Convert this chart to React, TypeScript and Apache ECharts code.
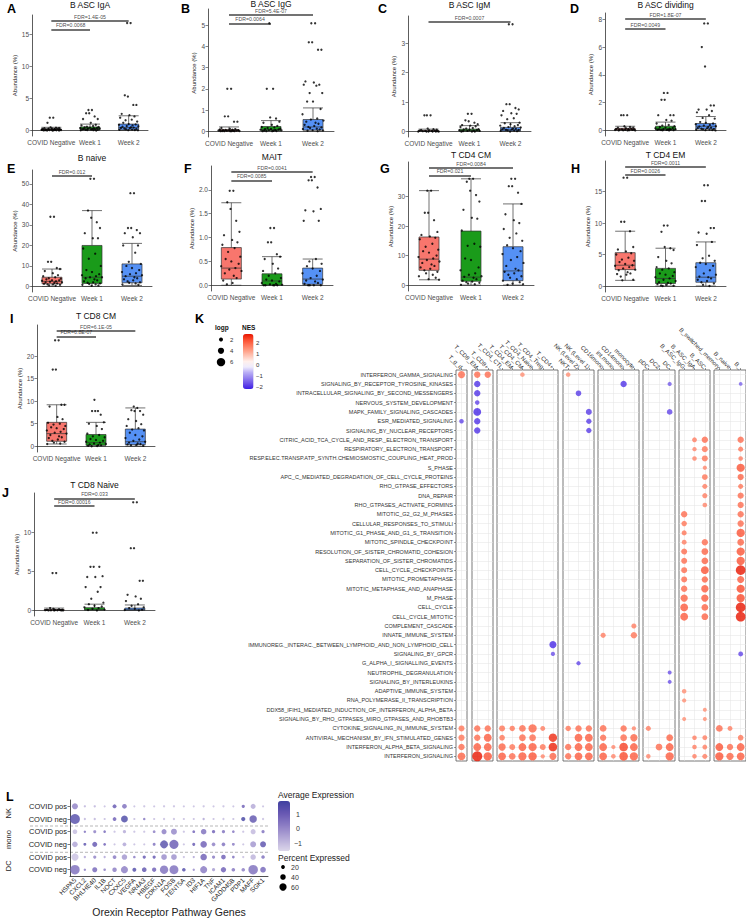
import React, { useEffect, useRef } from "react";
import * as echarts from "echarts";

const FONT = "'Liberation Sans', Arial, sans-serif";

// ---------- Panels A-J (boxplots) ----------
const groups = ["COVID Negative", "Week 1", "Week 2"];
const groupColors = ["#f8766d", "#1a9b1a", "#5591f5"];

const aBox = [[0, 0.05, 0.15, 0.25, 0.5], [0, 0.15, 0.3, 0.55, 1.0], [0, 0.1, 0.45, 1.0, 2.3]];
const aPts = [
  [2.0, 2.0, 1.2, 0.5, 0.45, 0.4, 0.35, 0.3, 0.28, 0.25, 0.22, 0.2, 0.18, 0.16, 0.15, 0.14, 0.12, 0.1, 0.08, 0.06, 0.05, 0.04, 0.02, 0.01, 0, 0, 0, 0.3, 0.2, 0.1],
  [3.2, 3.2, 2.7, 2.7, 2.2, 1.8, 1.8, 1.2, 0.9, 0.8, 0.7, 0.6, 0.55, 0.5, 0.45, 0.4, 0.38, 0.35, 0.3, 0.28, 0.25, 0.22, 0.2, 0.18, 0.15, 0.12, 0.1, 0.08, 0.05, 0.02, 0],
  [16.8, 16.8, 5.5, 5.3, 4.0, 4.0, 2.6, 2.4, 2.2, 2.0, 1.7, 1.6, 1.4, 1.2, 1.0, 0.95, 0.9, 0.8, 0.7, 0.65, 0.6, 0.5, 0.45, 0.4, 0.35, 0.3, 0.25, 0.2, 0.15, 0.1, 0.08, 0.05, 0.02],
];
const aTicks = [0, 5, 10, 15];
const aRange = [-0.86, 18.06];
const aFdr: [string, number, number][] = [["FDR=0.0068", 1, 15.8], ["FDR=1.4E-05", 2, 17.2]];

const bBox = [[0, 0, 0.03, 0.08, 0.2], [0, 0.02, 0.08, 0.22, 0.5], [0, 0.05, 0.2, 0.55, 1.1]];
const bPts = [
  [2.0, 2.0, 0.7, 0.7, 0.45, 0.45, 0.15, 0.12, 0.1, 0.08, 0.07, 0.06, 0.05, 0.05, 0.04, 0.03, 0.03, 0.02, 0.02, 0.01, 0.01, 0, 0, 0, 0, 0],
  [5.1, 2.0, 2.0, 0.65, 0.6, 0.45, 0.4, 0.3, 0.25, 0.2, 0.18, 0.15, 0.12, 0.1, 0.1, 0.08, 0.07, 0.06, 0.05, 0.04, 0.03, 0.02, 0.01, 0, 0, 0],
  [5.1, 5.1, 4.2, 4.2, 3.85, 3.85, 2.35, 2.3, 2.2, 2.2, 2.15, 1.8, 1.8, 1.4, 1.4, 1.05, 0.8, 0.6, 0.55, 0.5, 0.45, 0.4, 0.35, 0.3, 0.25, 0.2, 0.18, 0.15, 0.12, 0.1, 0.08, 0.05, 0.03, 0.02, 0],
];
const bTicks = [0, 1, 2, 3, 4, 5];
const bRange = [-0.275, 5.775];
const bFdr: [string, number, number][] = [["FDR=0.0064", 1, 5.1], ["FDR=5.4E-07", 2, 5.5]];

const cBox = [[0, 0, 0.01, 0.03, 0.08], [0, 0.01, 0.03, 0.08, 0.2], [0, 0.02, 0.06, 0.14, 0.3]];
const cPts = [
  [0.55, 0.55, 0.55, 0.1, 0.08, 0.06, 0.05, 0.04, 0.03, 0.03, 0.02, 0.02, 0.01, 0.01, 0, 0, 0, 0, 0, 0],
  [0.6, 0.6, 0.38, 0.35, 0.3, 0.25, 0.22, 0.2, 0.18, 0.15, 0.12, 0.1, 0.08, 0.07, 0.06, 0.05, 0.04, 0.03, 0.02, 0.02, 0.01, 0, 0, 0],
  [3.65, 3.65, 0.93, 0.93, 0.8, 0.75, 0.7, 0.62, 0.6, 0.55, 0.45, 0.42, 0.3, 0.28, 0.25, 0.22, 0.2, 0.18, 0.15, 0.14, 0.12, 0.1, 0.09, 0.08, 0.07, 0.06, 0.05, 0.04, 0.03, 0.02, 0.01, 0],
];
const cTicks = [0, 1, 2, 3];
const cRange = [-0.187, 3.93];
const cFdr: [string, number, number][] = [["FDR=0.0007", 2, 3.74]];

const dBox = [[0, 0.02, 0.08, 0.15, 0.3], [0, 0.03, 0.1, 0.3, 0.6], [0, 0.1, 0.3, 0.5, 1.0]];
const dPts = [
  [1.1, 1.1, 1.1, 0.3, 0.25, 0.2, 0.2, 0.15, 0.12, 0.1, 0.1, 0.08, 0.07, 0.06, 0.05, 0.04, 0.03, 0.02, 0.01, 0, 0, 0],
  [2.7, 2.7, 2.2, 2.2, 1.1, 1.1, 1.1, 0.75, 0.7, 0.5, 0.4, 0.35, 0.3, 0.25, 0.2, 0.18, 0.15, 0.12, 0.1, 0.09, 0.08, 0.07, 0.06, 0.05, 0.04, 0.03, 0.02, 0.01, 0],
  [7.7, 7.7, 6.0, 4.6, 1.8, 1.8, 1.5, 1.5, 1.4, 1.3, 1.1, 0.9, 0.85, 0.6, 0.55, 0.5, 0.45, 0.4, 0.35, 0.3, 0.28, 0.25, 0.2, 0.18, 0.15, 0.12, 0.1, 0.08, 0.06, 0.05, 0.03, 0.02, 0],
];
const dTicks = [0, 2, 4, 6, 8];
const dRange = [-0.4, 8.45];
const dFdr: [string, number, number][] = [["FDR=0.0049", 1, 7.33], ["FDR=1.8E-07", 2, 8.05]];

const eBox = [[0, 1.3, 2.5, 4.5, 8.5], [0, 1.5, 4.5, 20, 37], [0.5, 1.8, 5, 11, 21]];
const ePts = [
  [34, 34, 12, 12, 9, 8.5, 7.5, 6.5, 5.5, 5, 4.5, 4, 3.8, 3.5, 3, 3, 2.8, 2.5, 2.3, 2, 2, 1.8, 1.5, 1.3, 1, 1, 0.8, 0.5, 0.3],
  [52.5, 52.5, 37, 33.5, 31.3, 28.5, 26, 23.5, 23.5, 18.5, 16, 13.5, 10, 8, 7, 6, 5.5, 5, 4.5, 4.5, 4, 3.5, 3, 2.5, 2, 1.8, 1.5, 1.2, 1, 0.8, 0.5, 0.3],
  [45.5, 45.5, 28.5, 28.5, 27.5, 26, 26, 24, 20, 20, 16.5, 12, 11, 10, 9, 8, 7, 6.5, 6, 5.5, 5, 4.5, 4, 3.5, 3, 2.5, 2, 1.8, 1.5, 1, 0.8],
];
const eTicks = [0, 10, 20, 30, 40, 50];
const eRange = [-2.7, 56.8];
const eFdr: [string, number, number][] = [["FDR=0.012", 1, 54.1]];

const fBox = [[0, 0.13, 0.36, 0.79, 1.73], [0, 0, 0.09, 0.24, 0.6], [0, 0.02, 0.13, 0.36, 0.55]];
const fPts = [
  [1.98, 1.98, 1.74, 1.6, 1.35, 1.12, 1.05, 0.95, 0.9, 0.85, 0.78, 0.7, 0.6, 0.55, 0.5, 0.45, 0.4, 0.36, 0.33, 0.3, 0.25, 0.2, 0.15, 0.1, 0.05, 0.02],
  [1.2, 1.2, 0.9, 0.9, 0.65, 0.6, 0.55, 0.45, 0.35, 0.3, 0.25, 0.2, 0.15, 0.12, 0.1, 0.08, 0.05, 0.03, 0.02, 0.01, 0, 0, 0, 0, 0],
  [2.27, 2.27, 2.2, 2.2, 2.05, 1.6, 1.57, 1.55, 1.35, 1.35, 0.55, 0.5, 0.45, 0.4, 0.35, 0.3, 0.25, 0.2, 0.15, 0.12, 0.1, 0.08, 0.05, 0.03, 0, 0, 0, 0],
];
const fTicks = [0, 0.5, 1, 1.5, 2];
const fRange = [-0.12, 2.5];
const fFdr: [string, number, number][] = [["FDR=0.0085", 1, 2.2], ["FDR=0.0041", 2, 2.38]];

const gBox = [[1.8, 5, 8.8, 16.3, 32], [0, 1.3, 2.7, 18.3, 36], [0, 1.5, 4.8, 13, 27.5]];
const gPts = [
  [32, 32, 24.5, 24.5, 22, 18, 17, 16.5, 16, 15.5, 14, 13, 12, 11.5, 11, 10, 9.5, 9, 8.5, 8, 7.5, 7, 6.5, 6, 5.5, 5, 4.5, 4, 3.5, 3, 2.5, 2, 1.8],
  [36, 36, 35, 32, 30.5, 28.3, 25.5, 22.8, 22.5, 18.5, 14, 13.3, 13, 9, 8.5, 6, 5, 4, 3.5, 3, 2.8, 2.5, 2, 1.5, 1.2, 1, 0.8, 0.5, 0.3, 0.1],
  [36, 36, 33.5, 33.5, 31.3, 27.5, 24, 22, 21, 19, 17.5, 16, 15, 13.5, 12.5, 11.5, 10.5, 9.5, 8.5, 7.5, 6.5, 5.5, 5, 4.5, 4, 3.5, 3, 2.5, 2, 1.5, 1, 0.5, 0.3, 0.1],
];
const gTicks = [0, 10, 20, 30];
const gRange = [-2.0, 41.7];
const gFdr: [string, number, number][] = [["FDR=0.021", 1, 37.2], ["FDR=0.0084", 2, 39.7]];

const hBox = [[0.9, 2.6, 3.3, 5.3, 8.7], [0, 0.4, 1.2, 2.8, 6], [0, 0.6, 1.4, 3.7, 7]];
const hPts = [
  [17.2, 17.2, 10.2, 10.2, 8.7, 6.2, 5.8, 5.5, 5.2, 5, 4.5, 4.2, 4, 3.8, 3.5, 3.3, 3.2, 3, 2.8, 2.6, 2.5, 2.2, 2, 1.9, 1.8, 1.5, 1, 0.9],
  [9.6, 9.6, 8.6, 6.2, 6, 5.7, 4.6, 4, 3.6, 3, 2.8, 2.6, 2.2, 2, 1.8, 1.6, 1.4, 1.2, 1, 0.8, 0.6, 0.5, 0.4, 0.3, 0.2, 0.1, 0.05, 0],
  [16, 16, 13.5, 13.5, 9.2, 9.2, 8.5, 8.3, 7, 6.5, 4.8, 4.4, 4, 3.7, 3.5, 3.2, 3, 2.5, 2, 1.8, 1.5, 1.4, 1.2, 1, 0.8, 0.6, 0.4, 0.2, 0],
];
const hTicks = [0, 5, 10, 15];
const hRange = [-0.95, 19.85];
const hFdr: [string, number, number][] = [["FDR=0.0026", 1, 17.6], ["FDR=0.0011", 2, 18.9]];

const iBox = [[0.5, 1.1, 2.8, 5.3, 9.2], [0, 0.2, 0.8, 2.6, 5.3], [0, 0.35, 1, 3.8, 8.5]];
const iPts = [
  [23.5, 23.5, 17, 17, 9.2, 9.2, 8.8, 6.5, 6, 5.2, 5, 4.8, 4.5, 4.2, 4, 3.8, 3.5, 3.2, 3, 2.8, 2.5, 2.2, 2, 1.8, 1.5, 1.2, 1, 0.8, 0.6, 0.5],
  [10.3, 7.8, 7.8, 7.8, 7, 5.3, 5, 4.5, 3.8, 2.8, 2.5, 2.2, 2, 1.6, 1.4, 1.2, 1, 0.8, 0.6, 0.5, 0.4, 0.3, 0.2, 0.1, 0.05, 0],
  [8.8, 8.5, 8, 7.8, 7.8, 7, 6, 5.6, 4.9, 4.5, 4, 3.7, 3.5, 3, 2.5, 2.2, 1.8, 1.5, 1.2, 1, 0.8, 0.6, 0.5, 0.4, 0.3, 0.2, 0.1],
];
const iTicks = [0, 5, 10, 15, 20];
const iRange = [-1.28, 26.9];
const iFdr: [string, number, number][] = [["FDR=6.8E-07", 1, 24.4], ["FDR=6.1E-05", 2, 25.6]];

const jBox = [[0, 0, 0.05, 0.1, 0.3], [0, 0.02, 0.1, 0.35, 0.8], [0, 0.02, 0.08, 0.3, 0.7]];
const jPts = [
  [4.8, 4.8, 0.3, 0.2, 0.15, 0.1, 0.08, 0.05, 0.04, 0.03, 0.02, 0.01, 0, 0, 0, 0],
  [10, 10, 5.6, 5.6, 5.6, 4.4, 4.3, 4.3, 3, 3, 2.4, 1.5, 1, 0.8, 0.6, 0.5, 0.4, 0.3, 0.2, 0.1, 0.05, 0],
  [13.9, 13.9, 8, 8, 3.8, 3.8, 2, 1.8, 1.5, 1.2, 0.8, 0.6, 0.4, 0.3, 0.2, 0.1, 0.05, 0],
];
const jTicks = [0, 5, 10];
const jRange = [-0.72, 15.1];
const jFdr: [string, number, number][] = [["FDR=0.00016", 1, 13.4], ["FDR=0.033", 2, 14.4]];

// fixed horizontal jitter pattern (fraction of a category band)
const JITTER = [-0.04, 0.05, -0.1, -0.02, 0.12, 0.2, -0.18, 0.02, 0.15, -0.22, 0.08, -0.08, 0.22, -0.14, 0.0, 0.18, -0.25, 0.1, -0.05, 0.25, -0.16, 0.06, 0.13, -0.2, 0.03, -0.11, 0.2, -0.07, 0.09, -0.24, 0.16, -0.01, 0.24, -0.13, 0.11];

// ---------- Panel K (GSEA dot plot) ----------
const kRows = [
  "INTERFERON_GAMMA_SIGNALING",
  "SIGNALING_BY_RECEPTOR_TYROSINE_KINASES",
  "INTRACELLULAR_SIGNALING_BY_SECOND_MESSENGERS",
  "NERVOUS_SYSTEM_DEVELOPMENT",
  "MAPK_FAMILY_SIGNALING_CASCADES",
  "ESR_MEDIATED_SIGNALING",
  "SIGNALING_BY_NUCLEAR_RECEPTORS",
  "CITRIC_ACID_TCA_CYCLE_AND_RESP._ELECTRON_TRANSPORT",
  "RESPIRATORY_ELECTRON_TRANSPORT",
  "RESP.ELEC.TRANSP.ATP_SYNTH.CHEMIOSMOSTIC_COUPLING_HEAT_PROD",
  "S_PHASE",
  "APC_C_MEDIATED_DEGRADATION_OF_CELL_CYCLE_PROTEINS",
  "RHO_GTPASE_EFFECTORS",
  "DNA_REPAIR",
  "RHO_GTPASES_ACTIVATE_FORMINS",
  "MITOTIC_G2_G2_M_PHASES",
  "CELLULAR_RESPONSES_TO_STIMULI",
  "MITOTIC_G1_PHASE_AND_G1_S_TRANSITION",
  "MITOTIC_SPINDLE_CHECKPOINT",
  "RESOLUTION_OF_SISTER_CHROMATID_COHESION",
  "SEPARATION_OF_SISTER_CHROMATIDS",
  "CELL_CYCLE_CHECKPOINTS",
  "MITOTIC_PROMETAPHASE",
  "MITOTIC_METAPHASE_AND_ANAPHASE",
  "M_PHASE",
  "CELL_CYCLE",
  "CELL_CYCLE_MITOTIC",
  "COMPLEMENT_CASCADE",
  "INNATE_IMMUNE_SYSTEM",
  "IMMUNOREG._INTERAC._BETWEEN_LYMPHOID_AND_NON_LYMPHOID_CELL",
  "SIGNALING_BY_GPCR",
  "G_ALPHA_I_SIGNALLING_EVENTS",
  "NEUTROPHIL_DEGRANULATION",
  "SIGNALING_BY_INTERLEUKINS",
  "ADAPTIVE_IMMUNE_SYSTEM",
  "RNA_POLYMERASE_II_TRANSCRIPTION",
  "DDX58_IFIH1_MEDIATED_INDUCTION_OF_INTERFERON_ALPHA_BETA",
  "SIGNALING_BY_RHO_GTPASES_MIRO_GTPASES_AND_RHOBTB3",
  "CYTOKINE_SIGNALING_IN_IMMUNE_SYSTEM",
  "ANTIVIRAL_MECHANISM_BY_IFN_STIMULATED_GENES",
  "INTERFERON_ALPHA_BETA_SIGNALING",
  "INTERFERON_SIGNALING",
];
const kPanels = [
  ["T_g_d"],
  ["T_CD8_EM", "T_CD8+"],
  ["T_CD4_CTL", "T_CD4_EM", "T_CD4_CM", "T_CD4_Naive", "T_CD4_Treg", "T_CD4+"],
  ["NKT", "NK (Level 2)", "NK (Level 1)"],
  ["CD16mono", "int.mono", "CD14mono", "monocyte"],
  ["pDC", "DC2", "DC"],
  ["B_ASC_IgG", "B_ASC_IgA", "B_ASC"],
  ["B_switched_memory", "B_naive", "B_"],
];
// [row, column (global), logp, NES]
const kDots = [
  [0, 0, 4.8, 1.9], [0, 1, 4.2, 1.9], [0, 2, 4.2, 1.9], [0, 5, 2.5, 1.5], [0, 9, 2.5, 1.5],
  [1, 1, 4.2, -2.0], [1, 14, 4.2, -2.0], [1, 18, 2.2, -1.6], [1, 24, 1.8, -1.5],
  [2, 1, 4.2, -2.0], [2, 10, 3.5, -1.9],
  [3, 1, 2.5, -1.8],
  [4, 1, 5.5, -2.1], [4, 11, 3.8, -1.9], [4, 18, 3.5, -1.8],
  [5, 0, 2.5, -1.8], [5, 1, 4.2, -2.0], [5, 11, 3.2, -1.9],
  [6, 1, 4.2, -2.0], [6, 11, 3.2, -1.9],
  [7, 20, 2.8, 1.7], [7, 21, 4.2, 1.9], [7, 24, 4.2, 1.9],
  [8, 20, 2.2, 1.6], [8, 21, 3.8, 1.8], [8, 24, 3.0, 1.8],
  [9, 20, 2.5, 1.6], [9, 21, 3.8, 1.8], [9, 24, 2.5, 1.7],
  [10, 21, 2.2, 1.6], [10, 24, 5.8, 2.2],
  [11, 21, 3.6, 1.8], [11, 24, 4.0, 2.0],
  [12, 21, 3.0, 1.7], [12, 24, 3.0, 1.8],
  [13, 21, 3.0, 1.7], [13, 24, 4.0, 1.9],
  [14, 21, 2.6, 1.6], [14, 24, 4.0, 1.9],
  [15, 19, 4.2, 1.9], [15, 24, 4.2, 1.9],
  [16, 19, 3.3, 1.8], [16, 24, 4.2, 1.9],
  [17, 19, 3.0, 1.8], [17, 24, 5.8, 2.2],
  [18, 19, 2.8, 1.7], [18, 21, 4.2, 1.9], [18, 24, 4.5, 2.0],
  [19, 19, 3.8, 1.9], [19, 21, 4.5, 2.0], [19, 24, 5.8, 2.2],
  [20, 19, 3.8, 1.9], [20, 21, 4.5, 2.0], [20, 24, 5.8, 2.2],
  [21, 19, 3.8, 1.9], [21, 21, 5.5, 2.2], [21, 24, 7.2, 2.8],
  [22, 19, 3.8, 1.9], [22, 21, 4.2, 2.0], [22, 24, 4.8, 2.1],
  [23, 19, 4.2, 1.9], [23, 21, 5.0, 2.1], [23, 24, 5.8, 2.3],
  [24, 19, 5.0, 2.0], [24, 21, 5.0, 2.1], [24, 24, 5.8, 2.3],
  [25, 19, 5.5, 2.1], [25, 21, 4.5, 2.0], [25, 24, 7.2, 2.8],
  [26, 19, 5.5, 2.1], [26, 21, 4.5, 2.0], [26, 24, 7.2, 2.8],
  [27, 15, 3.0, 1.7],
  [28, 12, 3.0, 1.7], [28, 15, 4.2, 1.8],
  [29, 8, 4.8, -2.1],
  [30, 8, 2.2, -1.7], [30, 24, 2.8, -1.8],
  [31, 10, 2.2, -1.8],
  [32, 18, 2.0, -1.7],
  [33, 18, 2.0, -1.7],
  [34, 19, 2.5, 1.5],
  [35, 19, 2.2, 1.5],
  [36, 21, 2.0, 1.5],
  [37, 19, 2.0, 1.5], [37, 21, 2.0, 1.5],
  [38, 0, 3.8, 1.8], [38, 1, 4.2, 1.9], [38, 2, 4.2, 1.9], [38, 3, 3.8, 1.8], [38, 4, 3.3, 1.8], [38, 5, 4.5, 1.9], [38, 6, 5.8, 2.0], [38, 7, 2.8, 1.7], [38, 9, 3.3, 1.8], [38, 10, 4.2, 1.9], [38, 11, 4.2, 1.9], [38, 12, 4.5, 1.9], [38, 14, 4.2, 1.9], [38, 15, 2.2, 1.6], [38, 16, 3.0, 1.7], [38, 22, 4.5, 1.9], [38, 23, 2.8, 1.7],
  [39, 0, 4.0, 1.8], [39, 1, 4.2, 1.9], [39, 2, 5.5, 2.1], [39, 3, 3.5, 1.8], [39, 5, 4.5, 1.9], [39, 6, 4.5, 1.9], [39, 8, 6.0, 2.6], [39, 10, 5.5, 2.1], [39, 11, 5.5, 2.1], [39, 12, 4.2, 1.9], [39, 14, 4.5, 1.9], [39, 15, 5.0, 2.0], [39, 18, 4.5, 2.0], [39, 20, 2.5, 1.7], [39, 21, 2.8, 1.7], [39, 24, 3.5, 1.8],
  [40, 0, 4.2, 1.9], [40, 1, 5.5, 2.1], [40, 2, 5.5, 2.1], [40, 3, 5.0, 2.0], [40, 4, 3.8, 1.8], [40, 5, 5.5, 2.1], [40, 6, 5.8, 2.1], [40, 7, 3.8, 1.8], [40, 8, 6.2, 2.7], [40, 9, 4.2, 1.9], [40, 10, 5.5, 2.1], [40, 11, 5.5, 2.1], [40, 12, 5.5, 2.1], [40, 13, 2.2, 1.6], [40, 14, 6.2, 2.4], [40, 15, 5.5, 2.1], [40, 17, 4.5, 1.9], [40, 18, 5.5, 2.1], [40, 20, 2.5, 1.7], [40, 21, 2.8, 1.7], [40, 22, 5.5, 2.2], [40, 23, 4.2, 1.9], [40, 24, 5.5, 2.1],
  [41, 0, 5.5, 2.0], [41, 1, 7.5, 2.8], [41, 2, 6.0, 2.2], [41, 3, 5.5, 2.1], [41, 4, 4.5, 1.9], [41, 5, 5.8, 2.1], [41, 6, 6.0, 2.2], [41, 7, 2.2, 1.6], [41, 8, 4.8, 2.0], [41, 9, 4.2, 1.9], [41, 10, 5.5, 2.1], [41, 11, 5.5, 2.1], [41, 12, 5.5, 2.1], [41, 13, 2.5, 1.6], [41, 14, 6.2, 2.3], [41, 15, 5.8, 2.1], [41, 16, 2.5, 1.6], [41, 18, 5.8, 2.1], [41, 20, 2.5, 1.7], [41, 21, 3.0, 1.7], [41, 22, 5.8, 2.2], [41, 23, 5.0, 2.0], [41, 24, 5.5, 2.1],
];
const kLogpLegend = [2, 4, 6];
const kNesTicks = [2, 1, 0, -1, -2];
const kNesRange = [-2.2, 2.8];
const kNesColors = ["#3d1ee6", "#6a4fe8", "#9280ef", "#b9aef5", "#eeebfd", "#fff0ec", "#ffc7b8", "#ff9e85", "#ff7558", "#fa4a2c", "#e81500"];

// ---------- Panel L (Seurat dot plot) ----------
const lGenes = ["HSPA5", "CXCL2", "BHLHE40", "IL1B", "NOCT", "CXXC5", "VEGFA", "NR4A3", "HBEGF", "CDKN1A", "FOSB", "TENT5A", "ID3", "HIF1A", "TNF", "ICAM1", "GADD45B", "PDP1", "MAFF", "SGK1"];
const lRowLabels = ["COVID pos", "COVID neg", "COVID pos", "COVID neg", "COVID pos", "COVID neg"];
const lGroupLabels = ["NK", "mono", "DC"];
const lPct = [
  [45, 3, 4, 2, 22, 30, 2, 3, 2, 3, 3, 2, 2, 3, 2, 3, 2, 14, 35, 2],
  [90, 3, 4, 2, 20, 55, 2, 6, 2, 3, 3, 2, 2, 5, 2, 3, 2, 25, 62, 3],
  [30, 5, 12, 7, 3, 15, 3, 3, 9, 35, 45, 3, 9, 40, 15, 14, 8, 3, 35, 14],
  [40, 10, 35, 9, 3, 20, 3, 3, 11, 68, 80, 3, 12, 52, 18, 18, 10, 3, 45, 45],
  [60, 4, 14, 4, 20, 40, 7, 14, 14, 42, 42, 3, 3, 52, 14, 30, 8, 3, 40, 18],
  [85, 5, 35, 7, 28, 58, 22, 30, 26, 72, 78, 18, 5, 58, 14, 38, 18, 18, 85, 42],
];
const lExp = [
  [0.2, -0.8, -0.8, -1, 1.2, 0.6, -1, -1, -1, -1, -1, -1, -1, -1, -1, -1, -1, 1.0, -0.6, -1],
  [1.5, -0.8, -0.8, -1, 1.0, 1.7, -1, 0.5, -1, -1, -1, -1, -1, -0.5, -1, -1, -1, 1.9, 1.3, -1],
  [-1.0, 0.6, 0.3, 0.8, -1, -0.6, -1, -1, 0.3, 0.3, 0.1, -1, 0.9, 0.6, 1.0, 0.6, 0.5, -1, -0.9, 0.6],
  [-0.5, 1.4, 1.2, 1.0, -1, -0.5, -1, -1, 0.6, 1.5, 1.1, -1, 1.2, 1.0, 0.3, 0.6, 0.4, -1, -0.2, 1.4],
  [-1.1, -0.5, 0.2, -0.5, 0.4, -0.2, 0.4, 1.2, 1.2, 0.0, -0.1, -1, -0.5, 1.0, 0.4, 1.0, 0.6, -1, -0.8, 0.6],
  [0.6, 0.3, 0.8, 0.3, 0.3, 0.3, 1.6, 1.3, 1.0, 0.6, 0.6, 1.6, 0.0, 0.4, -0.3, 1.0, 0.5, 0.3, 0.6, 0.8],
];
const lExpTicks = [1, 0, -1];
const lExpRange = [-1.55, 1.9];
const lPctLegend = [20, 40, 60];
const lColors = ["#dcd6ea", "#b5aad8", "#8e7fc5", "#6858b3", "#4040a0"];

// ---------- layout ----------
const boxPanels = [
  { letter: "A", title: "B ASC IgA", box: aBox, pts: aPts, ticks: aTicks, range: aRange, fdr: aFdr, left: 32, top: 15, width: 116, height: 121, ty: 5, lx: 7, ly: 2 },
  { letter: "B", title: "B ASC IgG", box: bBox, pts: bPts, ticks: bTicks, range: bRange, fdr: bFdr, left: 208, top: 9, width: 126, height: 128, ty: 3.5, lx: 181, ly: 2 },
  { letter: "C", title: "B ASC IgM", box: cBox, pts: cPts, ticks: cTicks, range: cRange, fdr: cFdr, left: 408, top: 16, width: 123, height: 121, ty: 5, lx: 378, ly: 2 },
  { letter: "D", title: "B ASC dividing", box: dBox, pts: dPts, ticks: dTicks, range: dRange, fdr: dFdr, left: 605, top: 13, width: 121, height: 123, ty: 5, lx: 570, ly: 2 },
  { letter: "E", title: "B naive", box: eBox, pts: ePts, ticks: eTicks, range: eRange, fdr: eFdr, left: 32, top: 170, width: 120, height: 122, ty: 158, lx: 7, ly: 162 },
  { letter: "F", title: "MAIT", box: fBox, pts: fPts, ticks: fTicks, range: fRange, fdr: fFdr, left: 211, top: 166, width: 122, height: 125, ty: 157, lx: 184, ly: 162, dec: true },
  { letter: "G", title: "T CD4 CM", box: gBox, pts: gPts, ticks: gTicks, range: gRange, fdr: gFdr, left: 408, top: 162, width: 126, height: 129, ty: 155, lx: 380, ly: 162 },
  { letter: "H", title: "T CD4 EM", box: hBox, pts: hPts, ticks: hTicks, range: hRange, fdr: hFdr, left: 605, top: 161, width: 121, height: 131, ty: 155, lx: 571, ly: 162 },
  { letter: "I", title: "T CD8 CM", box: iBox, pts: iPts, ticks: iTicks, range: iRange, fdr: iFdr, left: 37, top: 325, width: 118, height: 127, ty: 316, lx: 10, ly: 312 },
  { letter: "J", title: "T CD8 Naive", box: jBox, pts: jPts, ticks: jTicks, range: jRange, fdr: jFdr, left: 34, top: 493, width: 121, height: 123, ty: 485, lx: 2, ly: 486 },
];
const kLeft = [456, 472, 497, 563, 598, 643, 679, 714];
const kWidth = [11, 21, 61, 31, 41, 32, 31, 32];
const kTop = 370;
const kHeight = 391;

const kSize = (logp: number) => 1.1 * logp + 1.8;
const lSize = (pct: number) => 2.0 + 0.088 * pct;

function T(text: string, x: number, y: number, size: number, o: any = {}) {
  const align = o.align || "left";
  const va = o.va || "top";
  return {
    type: "text", x, y, rotation: o.rot || 0, silent: true, z: 20,
    style: {
      text, fontFamily: FONT, fontSize: size, fontWeight: o.bold ? "bold" : "normal", fill: o.color || "#222",
      align, verticalAlign: va, textAlign: align, textVerticalAlign: va,
    },
  };
}

function buildOption() {
  const grid: any[] = [];
  const xAxis: any[] = [];
  const yAxis: any[] = [];
  const series: any[] = [];
  const graphic: any[] = [];
  const axisLineStyle = { color: "#333", width: 0.8 };

  boxPanels.forEach((p, i) => {
    grid.push({ left: p.left, top: p.top, width: p.width, height: p.height });
    xAxis.push({
      type: "category", gridIndex: i, data: groups,
      axisLine: { lineStyle: axisLineStyle },
      axisTick: { length: 2.5, lineStyle: { color: "#333", width: 0.6 }, alignWithLabel: true },
      axisLabel: { fontSize: 6.5, color: "#4d4d4d", margin: 3, interval: 0, fontFamily: FONT },
    });
    xAxis.push({ type: "value", gridIndex: i, min: 0, max: 3, show: false });
    yAxis.push({
      type: "value", gridIndex: i, min: p.range[0], max: p.range[1],
      axisLine: { show: true, lineStyle: axisLineStyle },
      axisTick: { show: true, length: 2.5, lineStyle: { color: "#333", width: 0.6 }, customValues: p.ticks },
      axisLabel: {
        fontSize: 6.5, color: "#4d4d4d", margin: 3, fontFamily: FONT, customValues: p.ticks,
        formatter: (v: number) => ((p as any).dec ? v.toFixed(1) : String(v)),
      },
      splitLine: { show: false },
      name: "Abundance (%)", nameLocation: "middle", nameGap: (p as any).dec ? 16 : 11,
      nameTextStyle: { fontSize: 6, color: "#222", fontFamily: FONT },
    });
    series.push({
      type: "boxplot", xAxisIndex: 2 * i, yAxisIndex: i, boxWidth: [20, 20],
      itemStyle: { borderColor: "#333", borderWidth: 0.7 },
      data: p.box.map((b, g) => ({ value: b, itemStyle: { color: groupColors[g], borderColor: "#333" } })),
      silent: true,
    });
    series.push({
      type: "scatter", xAxisIndex: 2 * i + 1, yAxisIndex: i, symbolSize: 2.3, silent: true,
      itemStyle: { color: "#000" }, z: 5,
      data: p.pts.flatMap((arr, g) => arr.map((v, k) => [g + 0.5 + JITTER[k % JITTER.length], v])),
      markLine: {
        silent: true, symbol: "none", animation: false,
        lineStyle: { color: "#444", width: 1.7, type: "solid" },
        label: { show: false },
        emphasis: { disabled: true },
        data: p.fdr.map(([, g, y]) => [{ coord: [0.5, y] }, { coord: [g + 0.5, y] }]),
      },
    });
    // FDR labels centred over their bars
    series.push({
      type: "scatter", xAxisIndex: 2 * i + 1, yAxisIndex: i, symbolSize: 1, silent: true,
      itemStyle: { color: "rgba(0,0,0,0)" }, z: 6,
      label: { show: true, position: "top", distance: 1, fontSize: 5.2, color: "#111", fontFamily: FONT },
      data: p.fdr.map(([t, g, y]) => ({ value: [(1 + g) / 2, y], label: { formatter: t } })),
    });
    graphic.push(T(p.title, p.left + p.width / 2, p.ty, 8.5, { align: "center", va: "middle", color: "#111" }));
    graphic.push(T(p.letter, p.lx, p.ly, 12.5, { bold: true, color: "#000" }));
  });

  // ---- K ----
  const kSeriesIdx: number[] = [];
  let colOffset = 0;
  kPanels.forEach((cols, j) => {
    const gi = grid.length;
    const xi = xAxis.length;
    const yi = yAxis.length;
    grid.push({ left: kLeft[j], top: kTop, width: kWidth[j], height: kHeight, show: true, borderColor: "#555", borderWidth: 0.8 });
    xAxis.push({
      type: "category", gridIndex: gi, data: cols, position: "top",
      axisLine: { show: false },
      axisTick: { show: true, length: 2, interval: 0, alignWithLabel: true, lineStyle: { color: "#333", width: 0.5 } },
      axisLabel: { rotate: 45, fontSize: 6, color: "#333", margin: 2, interval: 0, fontFamily: FONT },
      splitLine: { show: true, interval: 0, alignWithLabel: true, lineStyle: { color: "#e3e3e3", width: 0.5 } },
    });
    yAxis.push({
      type: "category", gridIndex: gi, data: kRows, inverse: true,
      axisLine: { show: false },
      axisTick: { show: j === 0, length: 2, interval: 0, alignWithLabel: true, lineStyle: { color: "#333", width: 0.5 } },
      axisLabel: { show: j === 0, fontSize: 5.5, color: "#333", margin: 3, interval: 0, fontFamily: FONT },
      splitLine: { show: true, interval: 0, alignWithLabel: true, lineStyle: { color: "#e3e3e3", width: 0.5 } },
    });
    const off = colOffset;
    kSeriesIdx.push(series.length);
    series.push({
      type: "scatter", xAxisIndex: xi, yAxisIndex: yi, silent: true,
      symbolSize: (v: number[]) => kSize(v[2]),
      data: kDots.filter((d) => d[1] >= off && d[1] < off + cols.length).map((d) => [d[1] - off, d[0], d[2], d[3]]),
    });
    colOffset += cols.length;
  });

  graphic.push(T("K", 195, 312, 12.5, { bold: true, color: "#000" }));
  graphic.push(T("logp", 215, 327, 6.5, { bold: true, va: "middle", color: "#111" }));
  kLogpLegend.forEach((v, k) => {
    const cy = 339.5 + k * 11.3;
    graphic.push({ type: "circle", silent: true, shape: { cx: 221, cy, r: kSize(v) / 2 }, style: { fill: "#000" } });
    graphic.push(T(String(v), 230, cy, 6, { va: "middle", color: "#333" }));
  });
  graphic.push(T("NES", 242, 327, 6.5, { bold: true, va: "middle", color: "#111" }));
  const nesPx = 55 / (kNesRange[1] - kNesRange[0]);
  kNesTicks.forEach((v) => {
    graphic.push(T(v < 0 ? "\u2212" + Math.abs(v) : String(v), 256, 334 + (kNesRange[1] - v) * nesPx, 6, { va: "middle", color: "#333" }));
  });

  // ---- L ----
  const lg = grid.length;
  const lx = xAxis.length;
  const ly = yAxis.length;
  grid.push({ left: 70, top: 800, width: 198, height: 79 });
  xAxis.push({
    type: "category", gridIndex: lg, data: lGenes,
    axisLine: { lineStyle: { color: "#222", width: 0.8 } },
    axisTick: { length: 2.5, alignWithLabel: true, interval: 0, lineStyle: { color: "#222", width: 0.6 } },
    axisLabel: { rotate: 45, fontSize: 6.5, color: "#222", margin: 3, interval: 0, fontFamily: FONT },
    splitLine: { show: false },
    name: "Orexin Receptor Pathway Genes", nameLocation: "middle", nameGap: 28,
    nameTextStyle: { fontSize: 10.5, color: "#222", fontFamily: FONT },
  });
  yAxis.push({
    type: "category", gridIndex: lg, data: lRowLabels, inverse: true,
    axisLine: { show: true, lineStyle: { color: "#222", width: 0.8 } },
    axisTick: { show: true, length: 2.5, alignWithLabel: true, interval: 0, lineStyle: { color: "#222", width: 0.6 } },
    axisLabel: { fontSize: 7.5, color: "#222", margin: 3, interval: 0, fontFamily: FONT },
    splitLine: { show: false },
  });
  const lSeries = series.length;
  const lData: number[][] = [];
  lPct.forEach((row, r) => row.forEach((pct, g) => lData.push([g, r, pct, lExp[r][g]])));
  series.push({
    type: "scatter", xAxisIndex: lx, yAxisIndex: ly, silent: true,
    symbolSize: (v: number[]) => lSize(v[2]), data: lData,
  });
  graphic.push(T("L", 6, 790, 12.5, { bold: true, color: "#000" }));
  lGroupLabels.forEach((g, k) => {
    graphic.push(T(g, 8, 813.2 + k * 26.3, 7.5, { align: "center", va: "middle", rot: Math.PI / 2, color: "#222" }));
  });
  [826, 852.3].forEach((y) => {
    graphic.push({ type: "line", silent: true, shape: { x1: 30, y1: y, x2: 268, y2: y }, style: { stroke: "#9a9a9a", lineWidth: 0.7, lineDash: [3, 2] } });
  });
  graphic.push(T("Average Expression", 278, 795, 8.5, { va: "middle", color: "#222" }));
  const expPx = 50 / (lExpRange[1] - lExpRange[0]);
  lExpTicks.forEach((v) => {
    graphic.push(T(v < 0 ? "\u2212" + Math.abs(v) : String(v), v < 0 ? 294 : 296, 801 + (lExpRange[1] - v) * expPx, 7, { va: "middle", color: "#333" }));
  });
  graphic.push(T("Percent Expressed", 278, 858, 8.5, { va: "middle", color: "#222" }));
  lPctLegend.forEach((v, k) => {
    const cy = 867 + k * 10;
    graphic.push({ type: "circle", silent: true, shape: { cx: 283, cy, r: lSize(v) / 2 }, style: { fill: "#000" } });
    graphic.push(T(String(v), 291, cy, 7, { va: "middle", color: "#333" }));
  });

  return {
    animation: false,
    backgroundColor: "#fff",
    textStyle: { fontFamily: FONT },
    grid, xAxis, yAxis, series, graphic,
    visualMap: [
      {
        type: "continuous", seriesIndex: kSeriesIdx, dimension: 3,
        min: kNesRange[0], max: kNesRange[1], inRange: { color: kNesColors },
        left: 243, top: 334, itemWidth: 10.5, itemHeight: 55, padding: 0,
        calculable: false, hoverLink: false, orient: "vertical",
      },
      {
        type: "continuous", seriesIndex: [lSeries], dimension: 3,
        min: lExpRange[0], max: lExpRange[1], inRange: { color: lColors },
        left: 278, top: 801, itemWidth: 12, itemHeight: 50, padding: 0,
        calculable: false, hoverLink: false, orient: "vertical",
      },
    ],
  };
}

export default function App() {
  const ref = useRef<HTMLDivElement>(null);
  useEffect(() => {
    if (!ref.current) return;
    const chart = echarts.init(ref.current, undefined, { renderer: "svg" });
    chart.setOption(buildOption() as any);
    return () => chart.dispose();
  }, []);
  return (
    <div
      ref={ref}
      style={{ position: "absolute", left: 0, top: 0, width: 746, height: 918, background: "#fff" }}
    />
  );
}
